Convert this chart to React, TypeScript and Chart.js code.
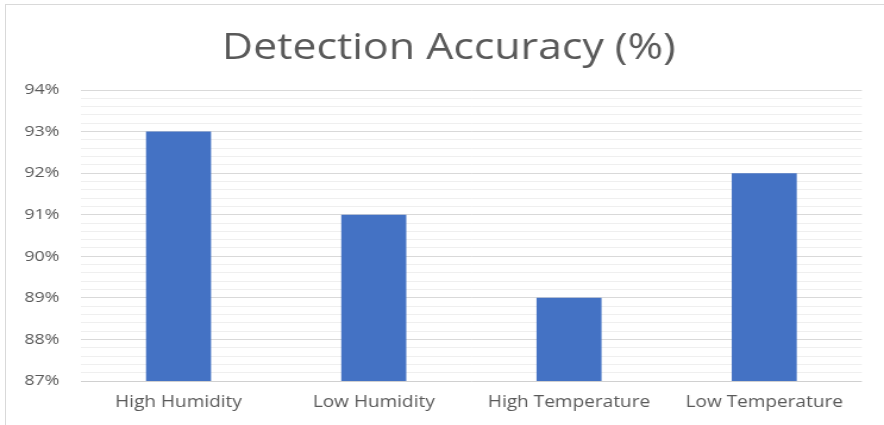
import React, { useEffect, useRef } from "react";
import { Chart, registerables } from "chart.js";

Chart.register(...registerables);

const categories = ["High Humidity", "Low Humidity", "High Temperature", "Low Temperature"];
const accuracy = [93, 91, 89, 92];
const yMin = 87;
const yMax = 94;
const titleText = "Detection Accuracy (%)";

const FONT = "'Open Sans', 'Noto Sans', sans-serif";

// The chart is drawn on a narrower canvas and widened with a CSS scaleX,
// which gives the broad, horizontally stretched lettering of the original.
const OUT_W = 884;
const OUT_H = 425;
const CANVAS_W = 743;
const STRETCH = OUT_W / CANVAS_W;

// Nudges the title so it is centred over the whole figure rather than the padded box.
const titleOffset = {
  id: "titleOffset",
  afterLayout(chart: any) {
    const tb = chart.titleBlock;
    if (tb) {
      tb.left += 12;
    }
  },
};

export default function App() {
  const canvasRef = useRef<HTMLCanvasElement | null>(null);

  useEffect(() => {
    document.body.style.margin = "0";
    const canvas = canvasRef.current;
    if (!canvas) return;
    const isMajor = (v: number) => Math.abs(v - Math.round(v)) < 1e-6;
    const chart = new Chart(canvas, {
      type: "bar",
      data: {
        labels: categories,
        datasets: [
          {
            label: "Accuracy",
            data: accuracy,
            backgroundColor: "#4472C4",
            borderWidth: 0,
            categoryPercentage: 1,
            barPercentage: 0.333,
          },
        ],
      },
      plugins: [titleOffset],
      options: {
        responsive: false,
        animation: false,
        layout: { padding: { left: 18, right: 18.6, top: 0, bottom: 0.8 } },
        plugins: {
          legend: { display: false },
          tooltip: { enabled: false },
          title: {
            display: true,
            text: titleText,
            color: "#595959",
            font: { family: FONT, size: 36, weight: "normal" },
            padding: { top: 27.5, bottom: 19.3 },
          },
        },
        scales: {
          x: {
            grid: { display: false, drawTicks: false },
            border: { display: false },
            ticks: {
              color: "#595959",
              font: { family: FONT, size: 16 },
              padding: 12,
              maxRotation: 0,
              autoSkip: false,
            },
          },
          y: {
            min: yMin,
            max: yMax,
            grid: {
              drawTicks: false,
              color: (ctx: any) => {
                const v = ctx.tick ? ctx.tick.value : 0;
                if (Math.abs(v - yMin) < 1e-6) return "#d0d0d0";
                return isMajor(v) ? "#d9d9d9" : "#efefef";
              },
              lineWidth: 1,
            },
            border: { display: false },
            afterFit: (scale: any) => {
              scale.width = 50;
            },
            ticks: {
              stepSize: 0.2,
              autoSkip: false,
              color: "#595959",
              font: { family: FONT, size: 15 },
              padding: 18,
              callback: (v: any) => (isMajor(Number(v)) ? `${Math.round(Number(v))}%` : ""),
            },
          },
        },
      },
    });
    return () => chart.destroy();
  }, []);

  return (
    <div style={{ position: "relative", width: OUT_W, height: OUT_H, overflow: "hidden", background: "#fff" }}>
      <div
        style={{
          position: "absolute",
          left: 5,
          top: 4,
          width: OUT_W,
          height: OUT_H + 5,
          border: "1px solid #d9d9d9",
          boxSizing: "border-box",
        }}
      />
      <div
        style={{
          position: "absolute",
          left: 0,
          top: 0,
          width: CANVAS_W,
          height: OUT_H,
          transform: `scaleX(${STRETCH})`,
          transformOrigin: "0 0",
        }}
      >
        <canvas ref={canvasRef} width={CANVAS_W} height={OUT_H} />
      </div>
    </div>
  );
}
